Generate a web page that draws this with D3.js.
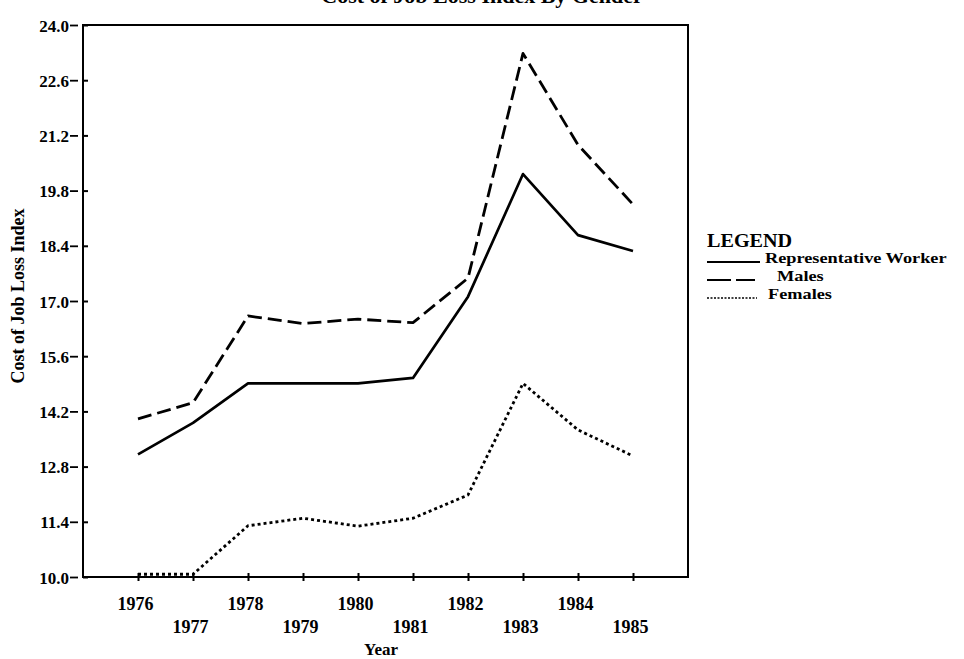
<!DOCTYPE html>
<html>
<head>
<meta charset="utf-8">
<script src="https://cdn.jsdelivr.net/npm/d3@7"></script>
<style>
  html, body { margin: 0; padding: 0; background: #fff; }
  svg { display: block; }
  text { font-family: "Liberation Serif", "Times New Roman", serif; font-weight: bold; fill: #000; }
</style>
</head>
<body>
<svg id="chart" width="964" height="659"></svg>
<script>
// ---- data ----
const years = [1976, 1977, 1978, 1979, 1980, 1981, 1982, 1983, 1984, 1985];
const representative = [13.11, 13.91, 14.91, 14.91, 14.91, 15.05, 17.11, 20.22, 18.67, 18.27];
const males = [14.01, 14.42, 16.62, 16.43, 16.54, 16.45, 17.58, 23.28, 20.96, 19.45];
const females = [10.07, 10.07, 11.30, 11.49, 11.29, 11.49, 12.08, 14.91, 13.73, 13.07];
const yTicks = [10.0, 11.4, 12.8, 14.2, 15.6, 17.0, 18.4, 19.8, 21.2, 22.6, 24.0];
const seriesNames = ["Representative Worker", "Males", "Females"];
const chartTitle = "Cost of Job Loss Index By Gender";
const xTitle = "Year";
const yTitle = "Cost of Job Loss Index";
const legendTitle = "LEGEND";

// ---- layout ----
const svg = d3.select("#chart");
const pLeft = 83, pRight = 688, pTop = 25, pBottom = 577;

const x = d3.scaleLinear().domain([1975, 1986]).range([pLeft, pRight]);
const y = d3.scaleLinear().domain([10, 24]).range([pBottom, pTop]);

const styles = [
  { dash: null, width: 2.7 },
  { dash: "14,6", width: 2.8 },
  { dash: "3,3", width: 2.8 }
];
const seriesValues = [representative, males, females];

// title (clipped at top edge, as in reference)
svg.append("text")
  .attr("x", 482).attr("y", 3)
  .attr("text-anchor", "middle")
  .style("font-size", "22px")
  .text(chartTitle);

// plot frame
svg.append("rect")
  .attr("x", pLeft).attr("y", pTop)
  .attr("width", pRight - pLeft).attr("height", pBottom - pTop)
  .attr("fill", "none").attr("stroke", "#000").attr("stroke-width", 2);

// y axis: inner ticks + labels
const yAxis = svg.append("g")
  .attr("transform", `translate(${pLeft},0)`)
  .call(d3.axisLeft(y).tickValues(yTicks).tickSizeInner(-5).tickSizeOuter(0)
    .tickPadding(14).tickFormat(d3.format(".1f")));
yAxis.select(".domain").remove();
yAxis.selectAll(".tick line").attr("stroke", "#000").attr("stroke-width", 2);
yAxis.selectAll(".tick text")
  .style("font-size", "17px")
  .style("font-family", "'Liberation Serif', 'Times New Roman', serif")
  .style("font-weight", "bold")
  .attr("dy", "0.36em");
// outer dash marks next to labels
const yAxis2 = svg.append("g")
  .attr("transform", `translate(${pLeft - 5},0)`)
  .call(d3.axisLeft(y).tickValues(yTicks).tickSizeInner(8).tickSizeOuter(0).tickFormat(""));
yAxis2.select(".domain").remove();
yAxis2.selectAll(".tick line").attr("stroke", "#000").attr("stroke-width", 1.8);

// x axis: ticks crossing the axis + staggered labels
const xAxis = svg.append("g")
  .attr("transform", `translate(0,${pBottom})`)
  .call(d3.axisBottom(x).tickValues(years).tickSizeInner(-4).tickSizeOuter(0)
    .tickPadding(0).tickFormat(d3.format("d")));
xAxis.select(".domain").remove();
xAxis.selectAll(".tick line").attr("stroke", "#000").attr("stroke-width", 2);
xAxis.selectAll(".tick text")
  .style("font-size", "18px")
  .style("font-family", "'Liberation Serif', 'Times New Roman', serif")
  .style("font-weight", "bold")
  .attr("x", -3)
  .attr("dy", null)
  .attr("y", (d, i) => (i % 2 === 0 ? 33 : 56));
const xAxis2 = svg.append("g")
  .attr("transform", `translate(0,${pBottom})`)
  .call(d3.axisBottom(x).tickValues(years).tickSizeInner(4).tickSizeOuter(0).tickFormat(""));
xAxis2.select(".domain").remove();
xAxis2.selectAll(".tick line").attr("stroke", "#000").attr("stroke-width", 2);

// axis titles
svg.append("text")
  .attr("x", 381).attr("y", 655)
  .attr("text-anchor", "middle")
  .style("font-size", "17px")
  .text(xTitle);

svg.append("text")
  .attr("transform", "translate(24,296) rotate(-90)")
  .attr("text-anchor", "middle")
  .style("font-size", "18px")
  .text(yTitle);

// lines
const line = d3.line()
  .x((d, i) => x(years[i]))
  .y(d => y(d));

seriesValues.forEach((vals, k) => {
  svg.append("path")
    .datum(vals)
    .attr("d", line)
    .attr("fill", "none")
    .attr("stroke", "#000")
    .attr("stroke-width", styles[k].width)
    .attr("stroke-dasharray", styles[k].dash)
    .attr("stroke-linejoin", "round");
});

// legend
const lg = svg.append("g");
lg.append("text")
  .attr("transform", "translate(707,247) scale(1.12,1)")
  .style("font-size", "18px")
  .text(legendTitle);

const legendRows = [
  { y: 263, lineX2: 760, textX: 765, dash: null },
  { y: 281, lineX2: 755, textX: 777, dash: "24,5" },
  { y: 299, lineX2: 757, textX: 768, dash: "2,1.5" }
];
seriesNames.forEach((name, k) => {
  const r = legendRows[k];
  lg.append("line")
    .attr("x1", 707).attr("x2", r.lineX2)
    .attr("y1", r.y - 1).attr("y2", r.y - 1)
    .attr("stroke", "#000")
    .attr("stroke-width", k === 2 ? 1.4 : 1.8)
    .attr("stroke-dasharray", r.dash);
  lg.append("text")
    .attr("transform", `translate(${r.textX},${r.y}) scale(1.18,1)`)
    .style("font-size", "15.5px")
    .text(name);
});
</script>
</body>
</html>
